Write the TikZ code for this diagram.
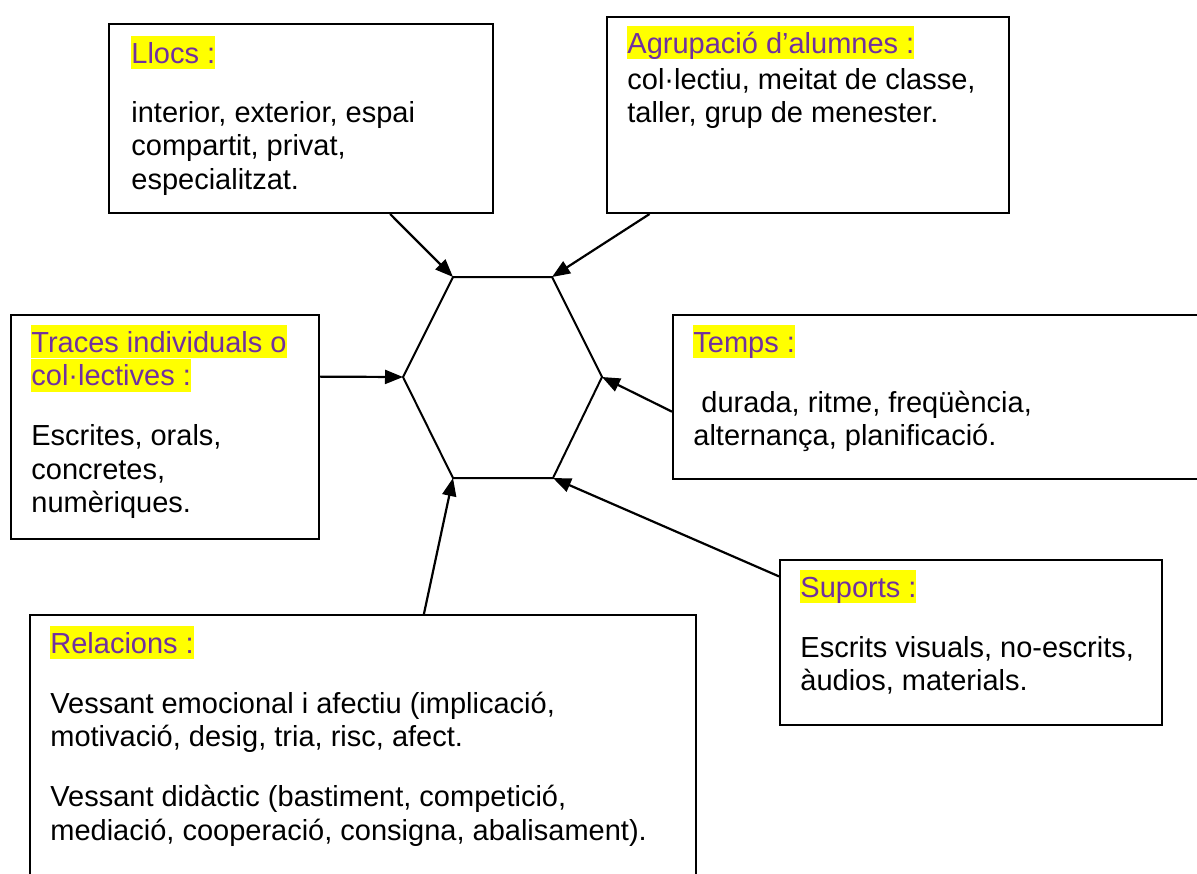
\documentclass[tikz,border=0pt]{standalone}
\usepackage{fontspec}
\setmainfont{Liberation Sans}
\usepackage{xcolor}
\usepackage{tikz}
\usetikzlibrary{arrows.meta,positioning,calc}
\definecolor{labc}{HTML}{7030A0}
\definecolor{hlc}{HTML}{FFFF00}
\newcommand{\hilab}[1]{{\setlength{\fboxsep}{0pt}\colorbox{hlc}{\rule[-3pt]{0pt}{16.5pt}\textcolor{labc}{#1}}}}

\begin{document}
\begin{tikzpicture}[x=0.5pt, y=-0.5pt,
  box/.style={draw=black, line width=1pt, inner sep=0pt},
  txt/.style={anchor=north west, align=left, inner sep=0pt,
    font=\fontsize{14.5pt}{16.75pt}\selectfont},
  ar/.style={-{Triangle[length=9pt,width=7pt]}, line width=1.1pt}]
\clip (0,0) rectangle (1197,873);
% boxes
\node[box, minimum width=192pt, minimum height=94.5pt] (llocs) at (301,118.5) {};
\node[box, minimum width=201pt, minimum height=98pt] (agrup) at (808,115) {};
\node[box, minimum width=154pt, minimum height=112pt] (traces) at (165,427) {};
\node[box, minimum width=278.5pt, minimum height=82pt] (temps) at (951.5,397) {};
\node[box, minimum width=191pt, minimum height=82.5pt] (suports) at (971,642.5) {};
\node[box, minimum width=333pt, minimum height=142.5pt] (relac) at (363,757.5) {};
% texts
\node[txt] (llocs-t) at (131,36) {\hilab{Llocs :}\\[12.75pt]interior, exterior, espai\\compartit, privat,\\especialitzat.};
\node[txt] (agrup-t) at (627,26) {\hilab{Agrupació d’alumnes :}\\[1.25pt]col·lectiu, meitat de classe,\\taller, grup de menester.};
\node[txt] (traces-t) at (31,325) {\hilab{Traces individuals o}\\\hilab{col·lectives :}\\[13.25pt]Escrites, orals,\\concretes,\\numèriques.};
\node[txt] (temps-t) at (693,325) {\hilab{Temps :}\\[13.25pt]\ durada, ritme, freqüència,\\alternança, planificació.};
\node[txt] (suports-t) at (800,570) {\hilab{Suports :}\\[13.25pt]Escrits visuals, no-escrits,\\àudios, materials.};
\node[txt] (relac-t) at (50,626) {\hilab{Relacions :}\\[13.25pt]Vessant emocional i afectiu (implicació,\\motivació, desig, tria, risc, afect.\\[13.25pt]Vessant didàctic (bastiment, competició,\\mediació, cooperació, consigna, abalisament).};
% hexagon
\coordinate (h1) at (453,277);
\coordinate (h2) at (552,277);
\coordinate (h3) at (602,377);
\coordinate (h4) at (553,478);
\coordinate (h5) at (453,478);
\coordinate (h6) at (403,377);
\draw[line width=1pt, line join=miter] (h1)--(h2)--(h3)--(h4)--(h5)--(h6)--cycle;
\foreach \a/\b in {llocs.-47/h1, agrup.-148/h2, traces.18/h6, temps.-177/h3, suports.161/h4, relac.67/h5}\draw[ar] (\a)--(\b);
\end{tikzpicture}
\end{document}
